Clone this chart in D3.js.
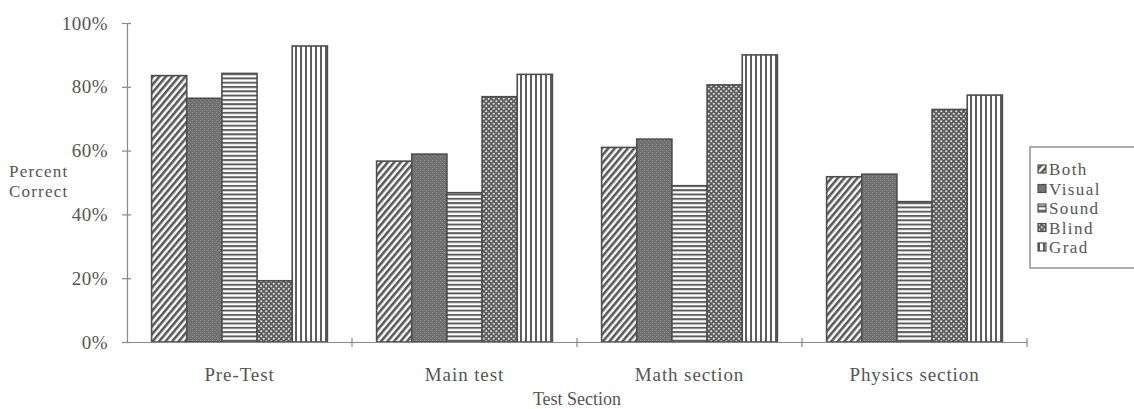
<!DOCTYPE html>
<html>
<head>
<meta charset="utf-8">
<script src="https://cdn.jsdelivr.net/npm/d3@7"></script>
<style>
  html, body { margin: 0; padding: 0; background: #fff; }
  svg { display: block; }
  text { font-family: "Liberation Serif", "DejaVu Serif", serif; fill: #555; }
</style>
</head>
<body>
<svg id="chart" width="1134" height="409"></svg>
<script>
// Test sections along the x axis
const categories = ["Pre-Test", "Main test", "Math section", "Physics section"];
// Subject groups (one bar per group in each section)
const groups = ["Both", "Visual", "Sound", "Blind", "Grad"];
// Percent correct per group, in section order
const both   = [83.5, 56.7, 61.0, 51.8];
const visual = [76.4, 58.9, 63.6, 52.6];
const sound  = [84.2, 46.8, 49.0, 44.0];
const blind  = [19.2, 76.9, 80.6, 72.9];
const grad   = [92.8, 83.9, 90.0, 77.4];
const yTicks = [0, 20, 40, 60, 80, 100];

const seriesValues = { Both: both, Visual: visual, Sound: sound, Blind: blind, Grad: grad };

const svg = d3.select("#chart");

// Fill patterns for each group
const defs = svg.append("defs");

const pBoth = defs.append("pattern").attr("id", "pat-Both")
  .attr("patternUnits", "userSpaceOnUse").attr("width", 5).attr("height", 8)
  .attr("patternTransform", "rotate(40)");
pBoth.append("rect").attr("width", 5).attr("height", 8).attr("fill", "#fff");
pBoth.append("rect").attr("width", 2.6).attr("height", 8).attr("fill", "#585858");

const pVis = defs.append("pattern").attr("id", "pat-Visual")
  .attr("patternUnits", "userSpaceOnUse").attr("width", 4).attr("height", 4);
pVis.append("rect").attr("width", 4).attr("height", 4).attr("fill", "#717171");
pVis.append("rect").attr("x", 0).attr("y", 0).attr("width", 1).attr("height", 1).attr("fill", "#8e8e8e");
pVis.append("rect").attr("x", 2).attr("y", 2).attr("width", 1).attr("height", 1).attr("fill", "#838383");

const pSound = defs.append("pattern").attr("id", "pat-Sound")
  .attr("patternUnits", "userSpaceOnUse").attr("width", 8).attr("height", 4.3);
pSound.append("rect").attr("width", 8).attr("height", 4.3).attr("fill", "#fff");
pSound.append("rect").attr("width", 8).attr("height", 2).attr("fill", "#5e5e5e");

const pBlind = defs.append("pattern").attr("id", "pat-Blind")
  .attr("patternUnits", "userSpaceOnUse").attr("width", 5).attr("height", 5);
pBlind.append("rect").attr("width", 5).attr("height", 5).attr("fill", "#5c5c5c");
pBlind.append("circle").attr("cx", 1.25).attr("cy", 1.25).attr("r", 1.05).attr("fill", "#e4e4e4");
pBlind.append("circle").attr("cx", 3.75).attr("cy", 3.75).attr("r", 1.05).attr("fill", "#e4e4e4");

const pGrad = defs.append("pattern").attr("id", "pat-Grad")
  .attr("patternUnits", "userSpaceOnUse").attr("width", 5).attr("height", 8);
pGrad.append("rect").attr("width", 5).attr("height", 8).attr("fill", "#fff");
pGrad.append("rect").attr("width", 2).attr("height", 8).attr("fill", "#5e5e5e");

// Scales
const x0 = d3.scaleBand().domain(categories).range([127, 1027]).paddingInner(0).paddingOuter(0);
const x1 = d3.scaleBand().domain(groups).range([0, x0.bandwidth()]).paddingInner(0).paddingOuter(0.7);
const y = d3.scaleLinear().domain([0, 100]).range([342, 23]);

// Bars
const rows = [];
categories.forEach((c, i) => groups.forEach(g => rows.push({ cat: c, group: g, value: seriesValues[g][i] })));

svg.append("g").selectAll("rect").data(rows).join("rect")
  .attr("x", d => x0(d.cat) + x1(d.group))
  .attr("y", d => y(d.value))
  .attr("width", x1.bandwidth())
  .attr("height", d => y(0) - y(d.value))
  .attr("fill", d => `url(#pat-${d.group})`)
  .attr("stroke", "#4e4e4e")
  .attr("stroke-width", 1.6);

// Y axis
const yAxis = d3.axisLeft(y).tickValues(yTicks).tickFormat(d => d + "%").tickSize(0).tickPadding(19);
const gy = svg.append("g").attr("transform", "translate(127,0)").call(yAxis);
gy.select(".domain").attr("stroke", "#888").attr("stroke-width", 1.2);
gy.selectAll(".tick text").style("font-size", "19px").style("letter-spacing", "0.5px").attr("fill", "#555");
gy.selectAll(".tick").append("line").attr("x1", -5).attr("x2", 4).attr("stroke", "#888").attr("stroke-width", 1.2);

// X axis
const gx = svg.append("g").attr("transform", `translate(0,${y(0)})`)
  .call(d3.axisBottom(x0).tickSize(0).tickPadding(26));
gx.select(".domain").attr("stroke", "#888").attr("stroke-width", 1.2);
gx.selectAll(".tick text").style("font-size", "19px").style("letter-spacing", "0.9px").attr("fill", "#555");
// boundary marks between sections
const bounds = categories.map(c => x0(c) + x0.bandwidth());
gx.append("g").selectAll("line").data(bounds).join("line")
  .attr("x1", d => d).attr("x2", d => d).attr("y1", -4).attr("y2", 5)
  .attr("stroke", "#888").attr("stroke-width", 1.2);

// Axis titles
const yTitle = svg.append("text").attr("x", 9).attr("y", 177).style("font-size", "17px").style("letter-spacing", "1.2px");
yTitle.append("tspan").attr("x", 9).text("Percent");
yTitle.append("tspan").attr("x", 9).attr("dy", 19.5).text("Correct");

svg.append("text").attr("x", 577).attr("y", 405).attr("text-anchor", "middle")
  .style("font-size", "18px").text("Test Section");

// Legend
const legend = svg.append("g").attr("transform", "translate(1030,147)");
legend.append("rect").attr("width", 112).attr("height", 121)
  .attr("fill", "#fff").attr("stroke", "#777").attr("stroke-width", 1.2);
const li = legend.selectAll("g.item").data(groups).join("g").attr("class", "item")
  .attr("transform", (d, i) => `translate(8,${28 + i * 19.5})`);
li.append("rect").attr("x", 0).attr("y", -10).attr("width", 8).attr("height", 8)
  .attr("fill", d => `url(#pat-${d})`).attr("stroke", "#4e4e4e").attr("stroke-width", 1.2);
li.append("text").attr("x", 11).attr("y", 0).style("font-size", "17px").style("letter-spacing", "1.4px").text(d => d);
</script>
</body>
</html>
